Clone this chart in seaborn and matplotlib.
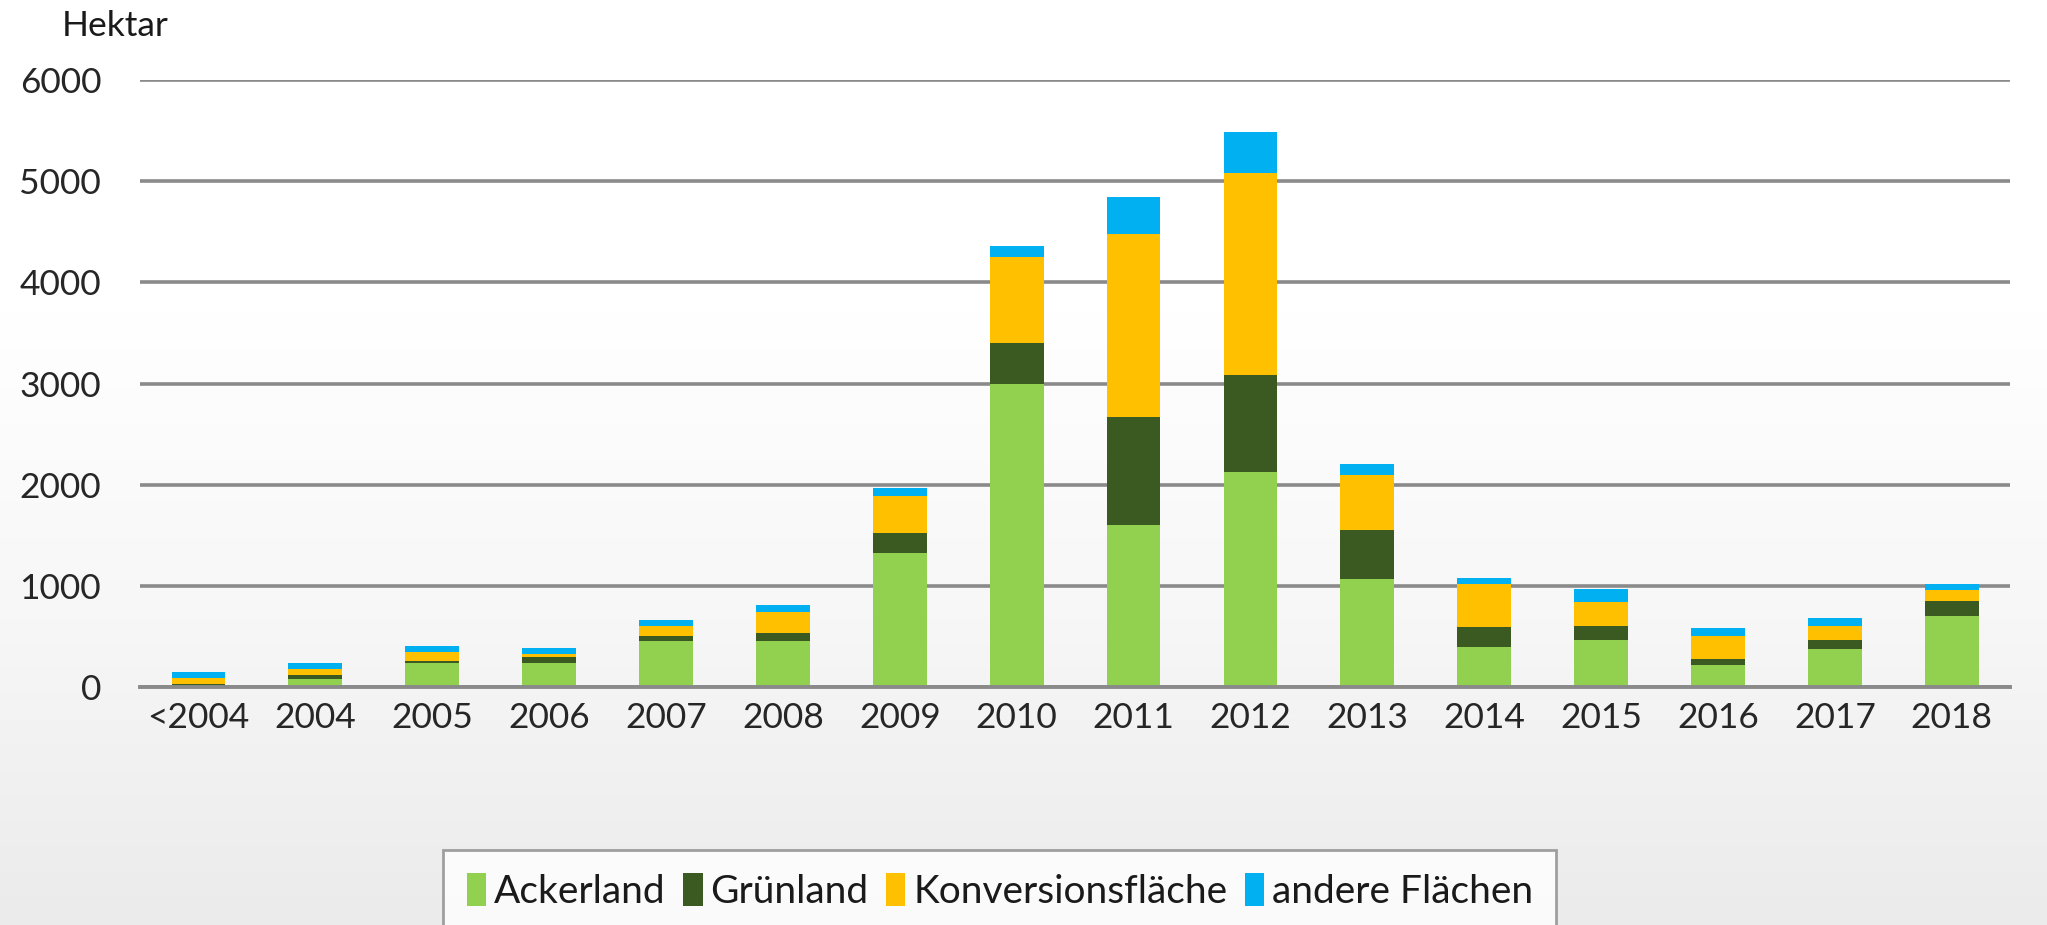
import numpy as np
import pandas as pd
import matplotlib
matplotlib.use("Agg")
import matplotlib.pyplot as plt
import seaborn as sns
from matplotlib.patches import Patch
from matplotlib.ticker import FixedLocator

# Data (hectares per year)
years = ["<2004", "2004", "2005", "2006", "2007", "2008", "2009", "2010",
         "2011", "2012", "2013", "2014", "2015", "2016", "2017", "2018"]
ackerland = [10, 75, 235, 235, 450, 450, 1320, 3000, 1600, 2130, 1070, 400, 465, 220, 380, 700]
gruenland = [15, 40, 25, 65, 55, 80, 200, 400, 1070, 950, 480, 195, 135, 60, 85, 155]
konversion = [65, 60, 85, 25, 100, 215, 365, 850, 1810, 2000, 550, 425, 240, 220, 135, 105]
andere = [60, 60, 60, 60, 60, 65, 80, 110, 360, 410, 105, 60, 130, 85, 80, 60]

series = ["Ackerland", "Grünland", "Konversionsfläche", "andere Flächen"]
colors = ["#92D050", "#3A5A22", "#FFC000", "#00B0F0"]

df = pd.DataFrame({"Jahr": years, "Ackerland": ackerland, "Grünland": gruenland,
                   "Konversionsfläche": konversion, "andere Flächen": andere})
# cumulative tops for stacking (drawn from the tallest layer down)
cum = df[series].cumsum(axis=1)

sns.set_theme(style="white")
plt.rcParams["font.family"] = ["Lato", "DejaVu Sans"]
plt.rcParams["text.color"] = "#1a1a1a"

fig = plt.figure(figsize=(20.47, 9.25), dpi=100)

# light gradient background (white at the top, light grey at the bottom)
bg = fig.add_axes([0, 0, 1, 1], zorder=-10)
grad = np.linspace(0, 1, 256).reshape(-1, 1)
bg.imshow(grad, aspect="auto", cmap=matplotlib.colors.LinearSegmentedColormap.from_list(
    "bg", ["#ffffff", "#ffffff", "#f7f7f7", "#ebebeb"]), extent=[0, 1, 0, 1])
bg.axis("off")

ax = fig.add_axes([0.0684, 0.2573, 0.9136, 0.6562])
ax.set_facecolor("none")

for s, c in reversed(list(zip(series, colors))):
    sns.barplot(x=df["Jahr"], y=cum[s], color=c, width=0.46, ax=ax,
                saturation=1, linewidth=0, edgecolor="none", zorder=3)

ax.set_ylim(0, 6000)
ax.set_xlim(-0.5, len(years) - 0.5)
ax.set_yticks(range(0, 6001, 1000))
ax.yaxis.grid(True, color="#8a8a8a", linewidth=2.6, zorder=0)
ax.set_axisbelow(True)
ax.set_xlabel("")
ax.set_ylabel("")

for sp in ["top", "right", "left"]:
    ax.spines[sp].set_visible(False)
ax.spines["bottom"].set_color("#8a8a8a")
ax.spines["bottom"].set_linewidth(2.8)
ax.spines["bottom"].set_zorder(4)

ax.tick_params(axis="y", length=0, pad=28, labelsize=25.5)
ax.tick_params(axis="x", which="major", length=0, pad=11, labelsize=25.5)
ax.xaxis.set_minor_locator(FixedLocator(np.arange(-0.5, len(years), 1.0)))
ax.tick_params(axis="x", which="minor", length=11, width=2.5, color="#8a8a8a", direction="out")

fig.text(0.03, 0.972, "Hektar", fontsize=25.5, va="center", ha="left")

handles = [Patch(facecolor=c, edgecolor="none") for c in colors]
leg = fig.legend(handles, series, loc="upper center", bbox_to_anchor=(0.4885, 0.081),
                 ncol=4, fontsize=28, frameon=True, fancybox=False,
                 handlelength=0.5, handleheight=0.9, handletextpad=0.2,
                 columnspacing=0.45, borderpad=0.6, borderaxespad=0)
leg.get_frame().set_edgecolor("#8a8a8a")
leg.get_frame().set_linewidth(2)
leg.get_frame().set_facecolor("white")

fig.savefig("out.png", dpi=100)
